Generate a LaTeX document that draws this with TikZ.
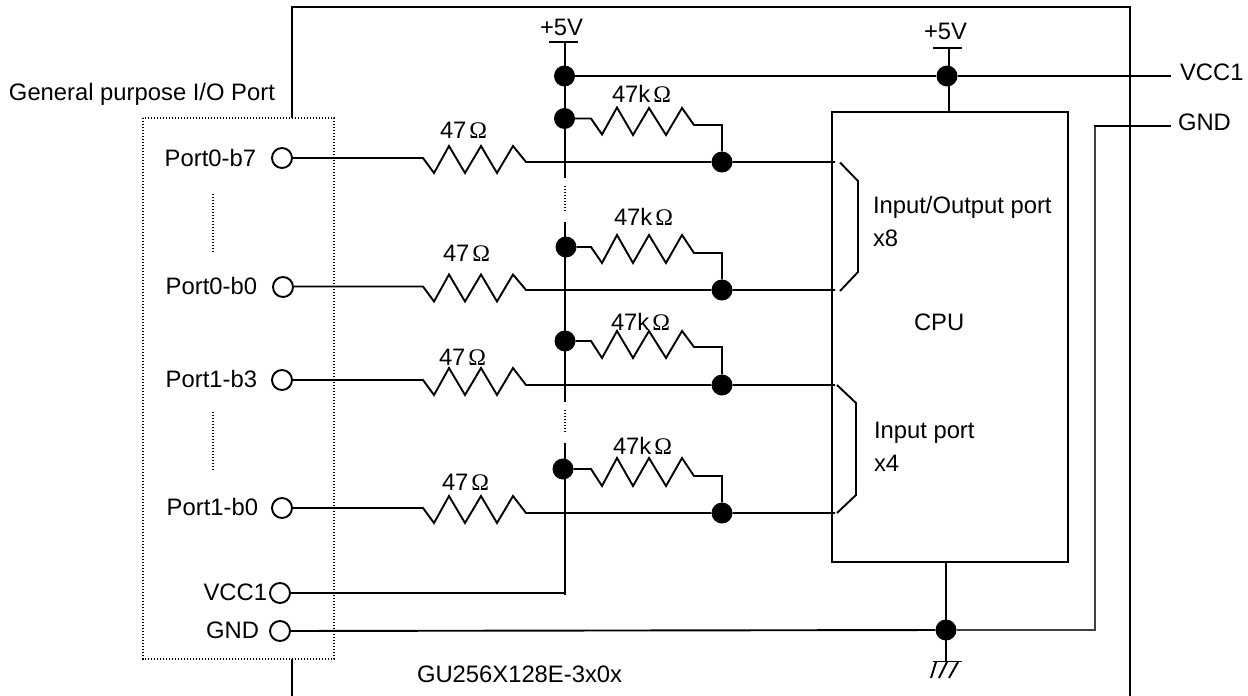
\documentclass[tikz,border=0pt]{standalone}
\usepackage{fontspec}
\setmainfont{Liberation Sans}
\newfontfamily\omfont{Liberation Serif}
\newcommand{\ohm}{\hspace{3pt}{\omfont Ω}}
\tikzset{
  wire/.style={line width=1.9pt,line join=miter},
  thinwire/.style={line width=1.7pt,black!75},
  frame/.style={line width=2pt},
  dotline/.style={line width=1.3pt,dash pattern=on 1.3pt off 1.7pt},
  term/.style={circle,draw,line width=1.9pt,fill=white,minimum size=20pt,inner sep=0pt},
  junc/.style={circle,fill=black,minimum size=21pt,inner sep=0pt},
  lab/.style={anchor=base west,inner sep=0pt,outer sep=0pt},
  cpubox/.style={draw,line width=2pt,inner sep=0pt}
}
\begin{document}
\begin{tikzpicture}[x=1pt,y=-1pt,font=\fontsize{23.8}{27}\selectfont]
\useasboundingbox (0,0) rectangle (1248,696);
\fill[white] (0,0) rectangle (1248,696);
% outer frame
\coordinate (fa) at (292,118);
\coordinate (fb) at (292,7);
\coordinate (fc) at (1130,7);
\coordinate (fd) at (1130,696);
\coordinate (fe) at (292,659);
\coordinate (ff) at (292,696);
\draw[frame] (fa) -- (fb) -- (fc) -- (fd);
\draw[frame] (fe) -- (ff);
% dotted port box
\draw[dotline] (143,118) rectangle (334,659);
\coordinate (da) at (213,194); \coordinate (db) at (213,252);
\coordinate (dc) at (213,412); \coordinate (dd) at (213,470);
\draw[dotline] (da) -- (db);
\draw[dotline] (dc) -- (dd);
% CPU
\node[cpubox,minimum width=236pt,minimum height=450pt] (cpu) at (950,337) {};
% terminals
\node[term] (t1) at (282,158) {};
\node[term] (t2) at (283,287) {};
\node[term] (t3) at (282,380) {};
\node[term] (t4) at (282,508) {};
\node[term] (tv) at (280,593) {};
\node[term] (tg) at (280,631) {};
% junctions on signal lines
\node[junc] (js1) at (722,162) {};
\node[junc] (js2) at (722,290) {};
\node[junc] (js3) at (722,385) {};
\node[junc] (js4) at (722,513) {};
% junctions on bus
\node[junc] (jp) at (564.5,76) {};
\node[junc] (jq) at (947,76) {};
\node[junc] (j1) at (564.5,118.5) {};
\node[junc] (j2) at (566,247) {};
\node[junc] (j3) at (565,341) {};
\node[junc] (j4) at (563,469) {};
\node[junc] (jg) at (946,630) {};
% series resistors and signal lines
\foreach \n/\y/\ye in {1/158/162,2/286.5/290,3/380/385,4/508/513}{
  \draw[wire] (t\n.east |- 0,\y) -- (423,\y) -- (434,\y+15) -- (449,\y-12) -- (465,\y+15) -- (481,\y-12) -- (497,\y+15) -- (513,\y-12) -- (526,\ye) -- (js\n) -- (835,\ye);
}
% pull-up resistors
\draw[wire] (j1) -- (591,118.5) -- (602,134.5) -- (617,107.5) -- (633,135) -- (649,108) -- (666,135) -- (682,108) -- (694,125) -- (722,125) -- (js1);
\draw[wire] (j2) -- (591,247) -- (602,263) -- (617,235) -- (633,263) -- (649,235) -- (666,263) -- (682,235) -- (694,253) -- (722,253) -- (js2);
\draw[wire] (j3) -- (591,341) -- (602,358) -- (617,331) -- (633,358) -- (649,331) -- (666,358) -- (682,331) -- (694,347) -- (722,347) -- (js3);
\draw[wire] (j4) -- (591,469) -- (602,486) -- (617,458) -- (633,486) -- (649,458) -- (666,486) -- (682,458) -- (694,476) -- (722,476) -- (js4);
% power bus
\coordinate (p1a) at (549,42); \coordinate (p1b) at (578,42); \coordinate (p1) at (565,42);
\coordinate (p2a) at (933,48); \coordinate (p2b) at (962,48); \coordinate (p2) at (949,48);
\draw[frame] (p1a) -- (p1b);
\draw[frame] (p2a) -- (p2b);
\coordinate (b1) at (565,178); \coordinate (b2) at (565,186); \coordinate (b3) at (565,212); \coordinate (b4) at (565,222);
\coordinate (b5) at (565,402); \coordinate (b6) at (565,410); \coordinate (b7) at (565,432); \coordinate (b8) at (565,443);
\coordinate (b9) at (565,595);
\draw[wire] (p1) -- (b1);
\draw[dotline] (b2) -- (b3);
\draw[wire] (b4) -- (b5);
\draw[dotline] (b6) -- (b7);
\draw[wire] (b8) -- (b9);
\draw[wire] (p2) -- (949,112);
\coordinate (vr) at (1171,76);
\draw[wire] (jp) -- (jq) -- (vr);
\coordinate (vb) at (566,593);
\draw[wire] (tv) -- (vb);
% ground
\coordinate (gr) at (1095,630); \coordinate (gt) at (1095,126); \coordinate (ge) at (1171,126);
\draw[wire] (tg) -- (jg);
\draw[thinwire] (jg) -- (gr) -- (gt);
\draw[wire] (1094,126) -- (ge);
\coordinate (gn) at (946,661.5);
\draw[wire] (946,562) -- (gn);
\draw[wire] (933,661.5) -- (962,661.5);
\draw[wire] (936,662) -- (931,678);
\draw[wire] (947,662) -- (939,678);
\draw[wire] (958,662) -- (949,678);
% brackets
\draw[wire] (840,162.5) -- (858,181) -- (858,272) -- (840,291);
\draw[wire] (837,385) -- (856,403) -- (856,495) -- (837,513);
% labels
\node[lab] (l5a) at (540,35.5) {+5V};
\node[lab] (l5b) at (924,39) {+5V};
\node[lab] (lgp) at (9,100) {General purpose I/O Port};
\node[lab,anchor=base east] (lp1) at (256,166) {Port0-b7};
\node[lab,anchor=base east] (lp2) at (257,294) {Port0-b0};
\node[lab,anchor=base east] (lp3) at (257,387) {Port1-b3};
\node[lab,anchor=base east] (lp4) at (258,515) {Port1-b0};
\node[lab,anchor=base east] (lpv) at (267,600) {VCC1};
\node[lab,anchor=base east] (lpg) at (259,638) {GND};
\node[lab] (lv) at (1180,80) {VCC1};
\node[lab] (lg) at (1178,130) {GND};
\node[lab] (lio) at (873,213) {Input/Output port};
\node[lab] (lx8) at (873,246) {x8};
\node[lab] (lcpu) at (914,330) {CPU};
\node[lab] (lin) at (874,438) {Input port};
\node[lab] (lx4) at (874,471) {x4};
\node[lab] (lgu) at (417,682) {GU256X128E-3x0x};
\node[lab] (r1) at (440,138.5) {47\ohm};
\node[lab] (r2) at (443,261) {47\ohm};
\node[lab] (r3) at (439,365) {47\ohm};
\node[lab] (r4) at (442,490) {47\ohm};
\node[lab] (k1) at (612,102) {47k\ohm};
\node[lab] (k2) at (614,225) {47k\ohm};
\node[lab] (k3) at (611,330) {47k\ohm};
\node[lab] (k4) at (613,454) {47k\ohm};
\end{tikzpicture}
\end{document}
